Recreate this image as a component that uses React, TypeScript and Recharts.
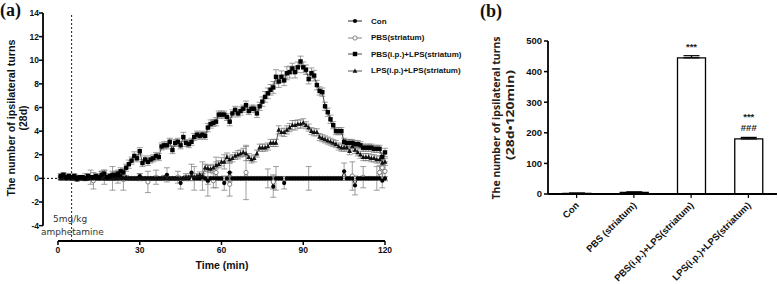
import React from 'react';
import {
  LineChart, Line, XAxis, YAxis, ReferenceLine, ErrorBar, Legend,
  BarChart, Bar, LabelList,
} from 'recharts';

// (a) turns per minute, minutes 1..120
const minutes = Array.from({ length: 120 }, (_, i) => i + 1);

const con = [
  0.1, 0.2, 0.0, 0.1, 0.0, 0.0, -0.1, 0.0, 0.0, 0.0, 0.0, 0.1, 0.0, 0.0, 0.0, 0.3, 0.0, 0.0, 0.0, 0.0,
  0.0, 0.1, 0.2, 0.0, 0.0, 0.0, 0.0, 0.0, 0.0, 0.2, 0.0, 0.0, 0.0, 0.0, 0.0, 0.0, 0.0, 0.0, 0.0, 0.3,
  0.0, 0.0, 0.0, 0.0, -0.4, 0.0, 0.0, 0.0, 0.5, 0.0, 0.0, 0.0, 0.1, 0.0, -0.2, 0.0, 0.0, 0.0, 0.0, 0.0,
  -0.4, 0.0, 0.5, 0.0, 0.0, 0.0, 0.0, 0.0, 0.0, 0.0, 0.0, 0.0, 0.0, 0.0, 0.0, 0.0, 0.0, 0.0, -0.7, 0.0,
  0.0, 0.0, -0.4, 0.0, 0.0, 0.0, 0.0, 0.0, 0.0, 0.0, 0.0, 0.0, 0.0, 0.0, 0.0, 0.0, 0.0, 0.0, 0.0, 0.0,
  0.0, 0.0, 0.0, 0.0, 0.6, 0.0, 0.0, 0.0, -0.6, 0.0, 0.0, 0.0, 0.0, 0.0, 0.0, 0.0, 0.0, 0.0, -0.2, 0.0,
];
const conErr = [
  0.15, 0.2, 0.15, 0.15, 0.1, 0.15, 0.15, 0.1, 0.15, 0.15, 0.15, 0.6, 0.15, 0.1, 0.15, 0.3, 0.15, 0.15, 0.15, 0.15,
  0.15, 0.5, 0.2, 0.15, 0.15, 0.1, 0.15, 0.15, 0.15, 0.2, 0.15, 0.15, 0.15, 0.15, 0.15, 0.15, 0.15, 0.15, 0.15, 0.6,
  0.15, 0.15, 0.15, 0.15, 0.5, 0.15, 0.15, 0.15, 0.7, 0.15, 0.15, 0.15, 0.3, 0.15, 0.3, 0.15, 0.15, 0.15, 0.15, 0.15,
  0.6, 0.15, 0.8, 0.15, 0.15, 0.15, 0.15, 0.15, 0.15, 0.15, 0.15, 0.15, 0.15, 0.15, 0.15, 0.15, 0.15, 0.15, 0.9, 0.15,
  0.15, 0.15, 0.5, 0.15, 0.15, 0.15, 0.15, 0.15, 0.15, 0.15, 0.15, 0.15, 0.15, 0.15, 0.15, 0.15, 0.15, 0.15, 0.15, 0.15,
  0.15, 0.15, 0.15, 0.15, 0.7, 0.15, 0.15, 0.15, 0.8, 0.15, 0.15, 0.15, 0.15, 0.15, 0.15, 0.15, 0.15, 0.15, 0.6, 0.15,
];

const pbsStr = [
  0.0, 0.1, 0.0, 0.0, 0.0, 0.0, 0.0, 0.0, 0.0, 0.1, 0.0, 0.0, -0.2, 0.0, 0.0, 0.0, 0.1, 0.0, 0.0, 0.0,
  0.0, 0.0, 0.0, -0.1, 0.0, 0.0, 0.0, 0.0, 0.0, 0.1, 0.0, 0.0, -0.3, 0.0, 0.0, 0.1, 0.0, 0.0, 0.0, 0.0,
  0.0, 0.0, 0.0, 0.1, 0.0, 0.0, 0.1, 0.0, 0.0, 0.0, 0.0, 0.0, 0.2, 0.0, -0.2, 0.0, -0.2, 0.5, 0.0, 0.0,
  0.0, 0.0, -0.5, 0.0, 0.0, 0.0, 0.0, 0.0, 0.5, 0.0, 0.0, 0.0, 0.0, 0.0, 0.0, 0.0, 0.0, 0.0, -0.3, 0.0,
  0.0, 0.0, 0.0, 0.0, 0.0, 0.0, 0.0, 0.0, 0.0, 0.0, 0.0, 0.0, 0.0, 0.0, 0.0, 0.0, 0.0, 0.0, 0.0, 0.0,
  0.0, 0.0, 0.0, 0.0, 0.0, 0.0, 0.0, 0.2, 0.0, 0.0, 0.0, 0.1, 0.0, 0.0, 0.0, 0.0, 0.0, 0.5, 0.9, 0.6,
];
const pbsStrErr = [
  0.15, 0.2, 0.15, 0.15, 0.15, 0.15, 0.15, 0.15, 0.15, 0.3, 0.15, 0.15, 0.7, 0.15, 0.15, 0.15, 0.6, 0.15, 0.15, 1.0,
  0.15, 0.15, 0.15, 0.9, 0.15, 0.15, 0.15, 0.15, 0.15, 0.3, 0.15, 0.15, 0.9, 0.15, 0.15, 0.6, 0.15, 0.15, 0.15, 0.15,
  0.15, 0.15, 0.15, 0.5, 0.15, 0.15, 0.3, 0.15, 0.15, 1.0, 0.15, 0.15, 1.2, 0.15, 1.3, 0.15, 0.6, 1.3, 0.15, 0.15,
  0.15, 0.15, 1.0, 0.15, 0.15, 0.15, 0.15, 0.15, 2.3, 0.15, 0.15, 0.15, 0.15, 0.15, 0.15, 0.15, 0.8, 0.15, 0.6, 1.0,
  0.15, 0.15, 0.15, 0.15, 0.15, 0.15, 0.15, 0.15, 0.15, 0.15, 0.15, 1.0, 0.15, 0.15, 0.15, 0.15, 0.15, 0.15, 0.15, 0.15,
  0.15, 0.15, 0.15, 0.15, 0.15, 0.15, 0.15, 1.2, 0.15, 0.15, 0.15, 0.9, 0.15, 0.15, 0.15, 0.15, 1.0, 0.6, 1.0, 0.8,
];

const pbsLps = [
  0.2, 0.3, 0.1, 0.2, 0.1, 0.2, 0.0, 0.1, 0.1, 0.0, 0.2, 0.1, 0.1, 0.2, 0.1, 0.3, 0.4, 0.1, 0.2, 0.3,
  0.3, 0.4, 0.6, 0.5, 0.9, 1.2, 1.5, 1.9, 1.7, 2.3, 1.3, 1.6, 1.4, 1.6, 1.7, 1.9, 1.8, 2.7, 2.8, 2.8,
  3.1, 2.4, 3.0, 3.1, 2.8, 3.5, 3.0, 2.9, 3.1, 3.5, 3.7, 3.6, 3.7, 3.6, 4.3, 4.6, 4.7, 4.8, 5.4, 5.4,
  5.4, 5.2, 4.8, 5.5, 5.8, 5.5, 5.7, 5.9, 6.2, 5.7, 5.9, 5.9, 5.5, 6.1, 6.5, 6.9, 7.2, 7.5, 7.7, 8.6,
  8.2, 8.6, 8.3, 8.9, 9.0, 9.3, 9.0, 9.4, 9.9, 9.4, 9.2, 8.4, 8.9, 8.7, 7.9, 7.4, 7.3, 6.1, 5.6, 5.0,
  4.5, 4.0, 4.0, 4.0, 3.1, 3.0, 3.0, 3.0, 2.9, 2.9, 2.8, 2.6, 2.6, 2.6, 2.6, 2.5, 2.5, 2.5, 1.8, 2.2,
];
const pbsLpsErr = [
  0.2, 0.2, 0.15, 0.2, 0.15, 0.2, 0.15, 0.15, 0.15, 0.15, 0.2, 0.15, 0.15, 0.2, 0.15, 0.3, 0.3, 0.15, 0.2, 0.3,
  0.3, 0.3, 0.3, 0.3, 0.3, 0.35, 0.3, 0.35, 0.3, 0.3, 0.3, 0.3, 0.3, 0.3, 0.3, 0.3, 0.3, 0.3, 0.3, 0.3,
  0.3, 0.3, 0.3, 0.3, 0.3, 0.4, 0.3, 0.3, 0.3, 0.3, 0.3, 0.3, 0.3, 0.3, 0.35, 0.35, 0.3, 0.35, 0.3, 0.3,
  0.3, 0.3, 0.35, 0.3, 0.3, 0.3, 0.35, 0.3, 0.35, 0.3, 0.3, 0.3, 0.35, 0.35, 0.4, 0.45, 0.45, 0.45, 0.5, 0.6,
  0.5, 0.5, 0.45, 0.55, 0.5, 0.45, 0.5, 0.45, 0.45, 0.45, 0.4, 0.4, 0.45, 0.45, 0.4, 0.35, 0.35, 0.35, 0.35, 0.35,
  0.3, 0.3, 0.3, 0.3, 0.3, 0.3, 0.3, 0.3, 0.3, 0.3, 0.3, 0.3, 0.3, 0.3, 0.3, 0.3, 0.3, 0.3, 0.3, 0.35,
];

const lpsLps = [
  0.0, 0.0, 0.1, 0.0, 0.0, 0.0, 0.1, 0.0, 0.0, 0.0, 0.0, 0.0, 0.0, 0.1, 0.0, 0.0, 0.0, 0.0, 0.0, 0.0,
  0.0, 0.0, 0.0, 0.0, 0.1, 0.0, 0.0, 0.0, 0.0, 0.0, 0.0, 0.0, 0.0, 0.0, 0.0, 0.0, 0.0, 0.0, 0.1, 0.0,
  0.0, 0.0, 0.0, 0.0, 0.0, 0.0, 0.1, 0.1, 0.2, 0.1, 0.2, 0.3, 0.2, 0.9, 0.85, 0.8, 0.9, 1.1, 1.2, 1.4,
  1.4, 1.8, 1.6, 1.7, 1.9, 2.0, 2.1, 2.2, 2.1, 1.8, 1.6, 1.7, 2.1, 2.6, 2.6, 2.6, 2.7, 3.0, 3.0, 3.0,
  4.1, 3.9, 3.9, 4.1, 4.3, 4.5, 4.5, 4.6, 4.6, 4.7, 4.5, 4.3, 4.0, 3.9, 3.9, 3.5, 3.4, 3.3, 3.2, 3.1,
  3.0, 2.9, 2.7, 2.6, 2.6, 2.6, 2.3, 2.7, 2.4, 2.2, 2.0, 1.8, 1.8, 1.8, 1.7, 1.7, 1.6, 1.6, 1.3, 1.4,
];
const lpsLpsErr = [
  0.1, 0.1, 0.15, 0.1, 0.1, 0.1, 0.15, 0.1, 0.1, 0.1, 0.1, 0.1, 0.1, 0.15, 0.1, 0.1, 0.1, 0.1, 0.1, 0.1,
  0.1, 0.1, 0.1, 0.1, 0.15, 0.1, 0.1, 0.1, 0.1, 0.1, 0.1, 0.1, 0.1, 0.1, 0.1, 0.1, 0.1, 0.1, 0.15, 0.1,
  0.1, 0.1, 0.1, 0.1, 0.1, 0.1, 0.15, 0.15, 0.2, 0.15, 0.2, 0.25, 0.2, 0.3, 0.3, 0.3, 0.3, 0.3, 0.3, 0.35,
  0.6, 0.35, 0.3, 0.3, 0.3, 0.35, 0.3, 0.35, 0.6, 0.3, 0.3, 0.3, 0.3, 0.3, 0.3, 0.3, 0.3, 0.3, 0.3, 0.3,
  0.35, 0.3, 0.35, 0.35, 0.35, 0.4, 0.4, 0.35, 0.35, 0.35, 0.3, 0.3, 0.3, 0.3, 0.3, 0.3, 0.3, 0.3, 0.3, 0.3,
  0.3, 0.3, 0.3, 0.3, 0.3, 0.3, 0.3, 0.4, 0.3, 0.3, 0.3, 0.3, 0.3, 0.3, 0.3, 0.3, 0.3, 0.3, 0.35, 0.3,
];

const timeTicks = [0, 30, 60, 90, 120];
const turnTicks = [-4, -2, 0, 2, 4, 6, 8, 10, 12, 14];

// (b) total turns 28d, 120 min
const groups = ['Con', 'PBS (striatum)', 'PBS(i.p.)+LPS(striatum)', 'LPS(i.p.)+LPS(striatum)'];
const totals = [2, 5, 445, 180];
const totalErr = [1, 2, 7, 5];
const starMarks = ['', '', '***', '***'];
const hashMarks = ['', '', '', '###'];
const totalTicks = [0, 100, 200, 300, 400, 500];

const FONT = 'Arial, "Liberation Sans", sans-serif';

const timeRows = minutes.map((m, i) => ({
  min: m,
  con: con[i], conErr: conErr[i],
  pbsStr: pbsStr[i], pbsStrErr: pbsStrErr[i],
  pbsLps: pbsLps[i], pbsLpsErr: pbsLpsErr[i],
  lpsLps: lpsLps[i], lpsLpsErr: lpsLpsErr[i],
}));

const totalRows = groups.map((g, i) => ({
  group: g, total: totals[i], err: [0, totalErr[i]], stars: starMarks[i], hash: hashMarks[i],
}));

const legendOrder = [
  { key: 'con', name: 'Con', mark: 'circle', color: '#111' },
  { key: 'pbsStr', name: 'PBS(striatum)', mark: 'open', color: '#777' },
  { key: 'pbsLps', name: 'PBS(i.p.)+LPS(striatum)', mark: 'square', color: '#333' },
  { key: 'lpsLps', name: 'LPS(i.p.)+LPS(striatum)', mark: 'triangle', color: '#444' },
];
const drawOrder = ['pbsStr', 'con', 'lpsLps', 'pbsLps'].map((k) => legendOrder.find((s) => s.key === k)!);

function Mark({ kind, cx, cy }: { kind: string; cx?: number; cy?: number }) {
  if (cx == null || cy == null) return null;
  if (kind === 'circle') return <circle cx={cx} cy={cy} r={2.1} fill="#000" />;
  if (kind === 'open') return <circle cx={cx} cy={cy} r={2.1} fill="#fff" stroke="#666" strokeWidth={0.8} />;
  if (kind === 'square') return <rect x={cx - 2.2} y={cy - 2.2} width={4.4} height={4.4} fill="#000" />;
  return <polygon points={`${cx},${cy - 2.6} ${cx - 2.4},${cy + 1.8} ${cx + 2.4},${cy + 1.8}`} fill="#111" />;
}

const LegendBox = () => (
  <div style={{ fontFamily: FONT, fontWeight: 'bold', fontSize: 8, color: '#111' }}>
    {legendOrder.map((s) => (
      <div key={s.key} style={{ display: 'flex', alignItems: 'center', height: 16.5 }}>
        <svg width={20} height={8}>
          <line x1={2} x2={16} y1={4} y2={4} stroke={s.color} strokeWidth={0.9} />
          <Mark kind={s.mark} cx={9} cy={4} />
        </svg>
        <span style={{ marginLeft: 5, whiteSpace: 'nowrap' }}>{s.name}</span>
      </div>
    ))}
  </div>
);

const SlantTick = ({ x, y, payload }: any) => (
  <text
    x={x + 3} y={y + 6}
    transform={`rotate(-45 ${x + 3} ${y + 6})`}
    textAnchor="end" fontFamily={FONT} fontWeight="bold" fontSize={9.5} fill="#111"
  >
    {payload.value}
  </text>
);

const MarkLabel = ({ x, y, width, index }: any) => {
  const lines = [hashMarks[index], starMarks[index]].filter(Boolean);
  return (
    <g>
      {lines.map((t, k) => (
        <text key={k} x={x + width / 2} y={y - 8 - k * 11} textAnchor="middle"
          fontFamily={FONT} fontWeight="bold" fontSize={9.5} fill="#222">{t}</text>
      ))}
    </g>
  );
};

const tickStyle = { fontSize: 8.5, fontWeight: 'bold', fill: '#111', fontFamily: FONT };

export default function App() {
  return (
    <div style={{ position: 'absolute', left: 0, top: 0, width: 778, height: 284, background: '#fff' }}>
      <div style={{ position: 'absolute', left: 0, top: 0 }}>
        <LineChart width={470} height={284} data={timeRows} margin={{ top: 13, right: 85, bottom: 42, left: 42 }}>
          <XAxis dataKey="min" type="number" domain={[-5.5, 120]} ticks={timeTicks} height={1}
            axisLine={false} tickLine={{ stroke: '#000', strokeWidth: 1.5 }} tickSize={4} tick={tickStyle} />
          <YAxis type="number" domain={[-5.3, 14]} ticks={turnTicks} width={1}
            axisLine={false} tickLine={{ stroke: '#000', strokeWidth: 1.5 }} tickSize={4} tickMargin={0} tick={tickStyle} />
          <ReferenceLine segment={[{ x: -5.5, y: -4 }, { x: -5.5, y: 14 }]} stroke="#000" strokeWidth={1.8} ifOverflow="visible" />
          <ReferenceLine segment={[{ x: 0, y: -5.3 }, { x: 120, y: -5.3 }]} stroke="#000" strokeWidth={2} ifOverflow="visible" />
          <ReferenceLine y={0} stroke="#000" strokeDasharray="2 2" strokeWidth={1} />
          <ReferenceLine x={5} stroke="#000" strokeDasharray="2 2" strokeWidth={0.9} />
          {drawOrder.map((s) => (
            <Line key={s.key} dataKey={s.key} name={s.name} type="linear" stroke={s.color} strokeWidth={0.9}
              isAnimationActive={false} activeDot={false}
              dot={(p: any) => <Mark key={`${s.key}-${p.index}`} kind={s.mark} cx={p.cx} cy={p.cy} />}>
              <ErrorBar dataKey={`${s.key}Err`} width={3} stroke="#777" strokeWidth={0.7} direction="y" />
            </Line>
          ))}
          <Legend content={() => <LegendBox />} layout="vertical" align="center" verticalAlign="middle"
            wrapperStyle={{ position: 'absolute', left: 346, top: 13, width: 130 }} />
        </LineChart>
      </div>

      <div style={{ position: 'absolute', left: 470, top: 0 }}>
        <BarChart width={308} height={284} data={totalRows} margin={{ top: 41, right: 1, bottom: 89, left: 77 }}>
          <XAxis dataKey="group" height={1} axisLine={{ stroke: '#000', strokeWidth: 2 }}
            tickLine={{ stroke: '#000', strokeWidth: 1.2 }} tickSize={4} tick={<SlantTick />} interval={0} />
          <YAxis type="number" domain={[0, 500]} ticks={totalTicks} width={1}
            axisLine={{ stroke: '#000', strokeWidth: 1.8 }} tickLine={{ stroke: '#000', strokeWidth: 1.5 }}
            tickSize={4} tickMargin={2} tick={{ ...tickStyle, fontSize: 9.5 }} />
          <Bar dataKey="total" barSize={28} fill="#fff" stroke="#000" strokeWidth={1.3} isAnimationActive={false}>
            <ErrorBar dataKey="err" width={8} stroke="#000" strokeWidth={1.2} direction="y" />
            <LabelList dataKey="stars" content={<MarkLabel />} />
          </Bar>
        </BarChart>
      </div>

      <svg width={778} height={284} style={{ position: 'absolute', left: 0, top: 0, pointerEvents: 'none' }}>
        <g fontFamily='"Times New Roman", "Liberation Serif", serif' fontWeight="bold" fontSize={18} fill="#111">
          <text x={0} y={16}>(a)</text>
          <text x={480} y={17}>(b)</text>
        </g>
        <g fontFamily={FONT} fontWeight="bold" fontSize={10.5} fill="#111" textAnchor="middle">
          <text transform="translate(11,118) rotate(-90)" dominantBaseline="central"
            textLength={157} lengthAdjust="spacingAndGlyphs">The number of ipsilateral turns</text>
          <text transform="translate(23,118) rotate(-90)" dominantBaseline="central">(28d)</text>
          <text x={222} y={269}>Time (min)</text>
        </g>
        <g fontFamily='"DejaVu Sans", sans-serif' fontSize={9} fill="#333">
          <text x={53} y={222}>5mg/kg</text>
          <text x={41} y={235}>amphetamine</text>
        </g>
        <g fontFamily='"Noto Sans", sans-serif' fontWeight="bold" fontSize={11} fill="#222" textAnchor="middle">
          <text transform="translate(495,118) rotate(-90)" dominantBaseline="central"
            textLength={163} lengthAdjust="spacingAndGlyphs">The number of ipsilateral turns</text>
          <text transform="translate(509,115) rotate(-90)" dominantBaseline="central"
            textLength={90} lengthAdjust="spacingAndGlyphs">(28d•120min)</text>
        </g>
      </svg>
    </div>
  );
}
